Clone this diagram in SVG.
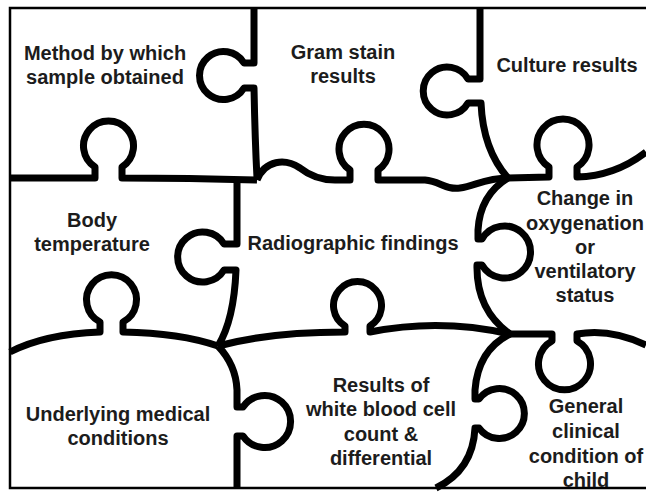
<svg xmlns="http://www.w3.org/2000/svg" width="646" height="492" viewBox="0 0 646 492">
<style>
.frame{fill:none;stroke:#000;stroke-width:2.5}
.cut{fill:none;stroke:#000;stroke-width:7;stroke-linejoin:round;stroke-linecap:butt}
text{font-family:"Liberation Sans",Arial,sans-serif;font-weight:bold;font-size:20px;fill:#1c1c1c;text-anchor:middle}
</style>
<rect width="646" height="492" fill="#fff"/>
<path class="frame" d="M646,8 L10,8 L10,488 L646,488"/>
<g id="connectors">
<path class="cut" d="M254,8 L254,63 L244,63 A24,24 0 1 0 244,88 L254,88 Q255,140 257,178"/>
<path class="cut" d="M480,8 L480,79 L468,79 A24,24 0 1 0 468,103 L481,103 Q483,150 508,178"/>
<path class="cut" d="M10,178 L95,178 L95,167 A25,25 0 1 1 122,167 L122,178 Q190,178 257,180"/>
<path class="cut" d="M257,180 C265,160 285,158 300,168 C310,176 320,180 335,180 L350,180 L350,170 A25,25 0 1 1 378,170 L378,180 L425,180 C440,181 445,190 460,188 C475,186 485,178 508,178"/>
<path class="cut" d="M508,178 L549,177 L549,167 A26,26 0 1 1 577,167 L577,177 Q615,176 646,152"/>
<path class="cut" d="M237,180 L237,244 L224,244 A25,25 0 1 0 224,270 L236,270 Q234,320 218,346"/>
<path class="cut" d="M508,178 Q480,195 478,230 L478,239 L482,239 A26,26 0 1 1 482,265 L477,265 Q476,310 510,334"/>
<path class="cut" d="M10,352 Q45,334 100,332 L100,322 A25,25 0 1 1 123,322 L123,332 Q180,333 218,346"/>
<path class="cut" d="M218,346 Q270,332 345,332 L345,326 A24,24 0 1 1 370,326 L370,332 Q440,318 510,334"/>
<path class="cut" d="M510,334 L552,334 L552,341 A26,26 0 1 0 577,341 L577,334 Q610,328 646,345"/>
<path class="cut" d="M218,346 Q236,365 237,390 L237,407 L243,407 A26,26 0 1 1 243,436 L237,436 L237,488"/>
<path class="cut" d="M510,334 Q478,350 475,390 L475,399 L479,399 A25,25 0 1 1 479,428 L475,428 Q473,470 436,488"/>
</g>
<g id="method"><text x="105" y="60">Method by which</text><text x="105" y="84">sample obtained</text></g>
<g id="gram"><text x="343" y="59">Gram stain</text><text x="343" y="83">results</text></g>
<g id="culture"><text x="567" y="72">Culture results</text></g>
<g id="body"><text x="92" y="227">Body</text><text x="92" y="251">temperature</text></g>
<g id="radiographic"><text x="353" y="250">Radiographic findings</text></g>
<g id="change"><text x="585" y="205">Change in</text><text x="585" y="230">oxygenation</text><text x="585" y="254">or</text><text x="585" y="278">ventilatory</text><text x="585" y="302">status</text></g>
<g id="underlying"><text x="118" y="421">Underlying medical</text><text x="118" y="445">conditions</text></g>
<g id="wbc"><text x="381" y="392">Results of</text><text x="381" y="416">white blood cell</text><text x="381" y="441">count &amp;</text><text x="381" y="465">differential</text></g>
<g id="general"><text x="586" y="413">General</text><text x="586" y="438">clinical</text><text x="586" y="463">condition of</text><text x="586" y="487">child</text></g>
</svg>
